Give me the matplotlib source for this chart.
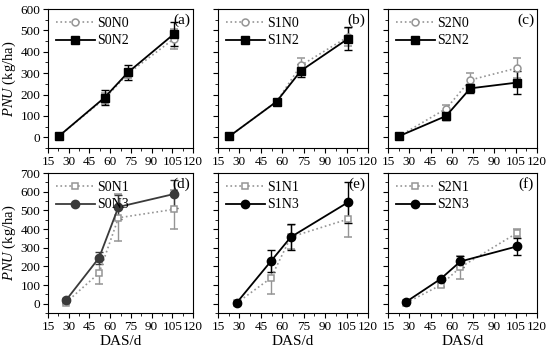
import numpy as np
import matplotlib.pyplot as plt
from matplotlib.ticker import MultipleLocator

plt.rcParams['font.family'] = ['Liberation Serif', 'DejaVu Serif']
plt.rcParams['mathtext.fontset'] = 'custom'
plt.rcParams['mathtext.it'] = 'Liberation Serif:italic'
plt.rcParams['mathtext.rm'] = 'Liberation Serif'

# sampling days
das_top = [23, 56, 73, 106]
das_bot = [28, 52, 66, 106]

# top row: N0 (grey dotted, open circle) vs N2 (black, square)
s0n0 = [6, 181, 298, 460];  s0n0_err = [8, 25, 20, 48]
s0n2 = [6, 186, 304, 482];  s0n2_err = [10, 36, 35, 56]
s1n0 = [5, 167, 336, 470];  s1n0_err = [8, 12, 34, 42]
s1n2 = [5, 167, 311, 461];  s1n2_err = [8, 12, 30, 53]
s2n0 = [6, 134, 268, 324];  s2n0_err = [8, 15, 32, 47]
s2n2 = [6, 100, 229, 256];  s2n2_err = [8, 20, 20, 55]

# bottom row: N1 (grey dotted, open square) vs N3 (dark, filled circle)
s0n1 = [6, 164, 460, 505];  s0n1_err = [8, 58, 125, 105]
s0n3 = [18, 246, 518, 587]; s0n3_err = [10, 33, 65, 77]
s1n1 = [3, 137, 357, 453];  s1n1_err = [6, 87, 65, 95]
s1n3 = [4, 227, 357, 543];  s1n3_err = [8, 58, 68, 110]
s2n1 = [5, 99, 195, 379];   s2n1_err = [8, 10, 63, 23]
s2n3 = [11, 132, 226, 307]; s2n3_err = [8, 8, 29, 47]

panels = [
    ('(a)', das_top, ('S0N0', s0n0, s0n0_err), ('S0N2', s0n2, s0n2_err), 0),
    ('(b)', das_top, ('S1N0', s1n0, s1n0_err), ('S1N2', s1n2, s1n2_err), 0),
    ('(c)', das_top, ('S2N0', s2n0, s2n0_err), ('S2N2', s2n2, s2n2_err), 0),
    ('(d)', das_bot, ('S0N1', s0n1, s0n1_err), ('S0N3', s0n3, s0n3_err), 1),
    ('(e)', das_bot, ('S1N1', s1n1, s1n1_err), ('S1N3', s1n3, s1n3_err), 1),
    ('(f)', das_bot, ('S2N1', s2n1, s2n1_err), ('S2N3', s2n3, s2n3_err), 1),
]

W, H = 550, 351
fig = plt.figure(figsize=(W / 100, H / 100), dpi=100)
lefts = [48, 218, 388]
widths = [145, 150, 149]
tops = [9, 173]
heights = [139, 140]

grey = '#959595'
for i, (lab, x, s1, s2, row) in enumerate(panels):
    col = i % 3
    ax = fig.add_axes([lefts[col] / W, 1 - (tops[row] + heights[row]) / H,
                       widths[col] / W, heights[row] / H])
    if row == 0:
        m1, m2, c2 = 'o', 's', 'black'
        ax.set_ylim(-50, 600)
    else:
        m1, m2 = 's', 'o'
        c2 = '#3a3a3a' if col == 0 else 'black'
        ax.set_ylim(-50, 700)
    e1 = ax.errorbar(x, s1[1], yerr=s1[2], color=grey, ls=':', lw=1.2, marker=m1,
                     mfc='white', mec=grey, mew=1.1, ms=5, capsize=3, elinewidth=1,
                     label=s1[0])
    e2 = ax.errorbar(x, s2[1], yerr=s2[2], color=c2, ls='-', lw=1.3, marker=m2,
                     mfc=c2, mec=c2, ms=5.5 if row == 0 else 6, capsize=3,
                     elinewidth=1, label=s2[0])
    ax.set_xlim(15, 120)
    ax.set_xticks(np.arange(15, 121, 15))
    ax.xaxis.set_minor_locator(MultipleLocator(7.5))
    ax.yaxis.set_major_locator(MultipleLocator(100))
    ax.yaxis.set_minor_locator(MultipleLocator(50))
    ax.tick_params(which='both', direction='out', labelsize=9.5, pad=2)
    ax.tick_params(which='major', length=3.5)
    ax.tick_params(which='minor', length=2)
    if col != 0:
        ax.set_yticklabels([])
    else:
        ax.set_ylabel(r'$\mathit{PNU}$ (kg/ha)', fontsize=10.5, labelpad=2)
    if row == 1:
        ax.set_xlabel('DAS/d', fontsize=11, labelpad=2)
    ax.text(0.98, 0.97, lab, transform=ax.transAxes, ha='right', va='top',
            fontsize=11)
    ax.legend(handles=[e1[0], e2[0]], labels=[s1[0], s2[0]], loc='upper left',
              frameon=False, fontsize=10, handlelength=2.8,
              handletextpad=0.2, borderaxespad=0.15, labelspacing=0.35)

fig.savefig('out.png', dpi=100)
